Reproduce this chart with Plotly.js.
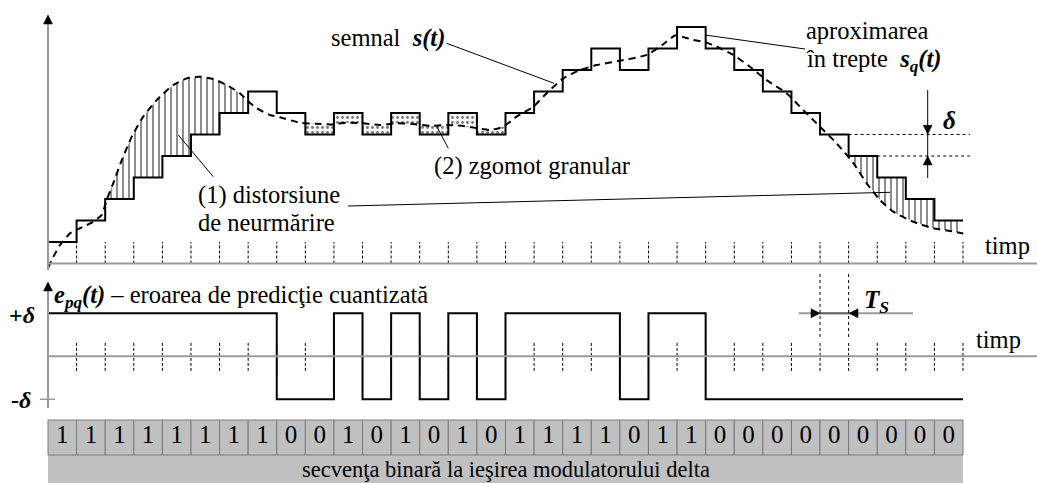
<!DOCTYPE html>
<html><head><meta charset="utf-8">
<script src="https://cdn.plot.ly/plotly-3.0.1.min.js"></script>
<style>html,body{margin:0;padding:0;background:#fff}#c{width:1037px;height:483px}</style>
</head><body><div id="c"></div>
<script>
// ---- data ----
const bits = [1,1,1,1,1,1,1,1,0,0,1,0,1,0,1,0,1,1,1,1,0,1,1,0,0,0,0,0,0,0,0,0];
const startLevel = 0;
// analog signal s(t): time in Ts units, amplitude in delta units
const signalT = [0,0.19,0.42,0.77,1.12,1.58,1.88,2.05,2.28,2.58,2.93,3.33,3.80,4.38,4.85,5.31,5.78,6.25,6.71,7.01,7.30,7.76,8.11,8.81,9.4,9.9,10.45,11.02,11.6,12.19,12.78,13.36,13.94,14.52,14.99,15.46,15.92,16.39,16.97,17.44,18.02,18.61,19.19,20.0,20.94,21.52,21.93,22.3,22.57,22.98,23.39,23.97,24.55,25.13,25.83,26.41,27.0,27.58,28.17,28.63,29.1,29.56,30.26,30.96,31.55,32.01];
const signalS = [-0.2,0.32,0.86,1.40,1.64,1.94,2.26,2.95,3.73,4.81,5.90,6.83,7.60,8.30,8.61,8.69,8.58,8.30,7.92,7.53,7.22,6.91,6.80,6.55,6.5,6.47,6.55,6.52,6.44,6.52,6.49,6.40,6.44,6.40,6.29,6.21,6.36,6.83,7.29,7.92,8.61,9.0,9.23,9.43,9.70,10.2,10.6,10.5,10.40,10.3,10.08,9.70,9.15,8.53,7.92,7.14,6.36,5.59,4.66,3.73,2.95,2.41,1.94,1.64,1.51,1.40];
const overloadA = [2.05, 7.0];
const granular = [9, 16];
const overloadB = [28, 31.95];

// ---- derived ----
const N = bits.length;
const level = [];
{ let L = startLevel; bits.forEach(b => { L += b ? 1 : -1; level.push(L); }); }
const stairX = [0], stairY = [startLevel];
for (let k = 0; k < N; k++) { stairX.push(k); stairY.push(level[k]); }
stairX.push(N); stairY.push(level[N-1]);
const sigX = [], sigY = [];
for (let k = 0; k < N; k++) { sigX.push(k); sigY.push(bits[k] ? 1 : -1); }
sigX.push(N); sigY.push(bits[N-1] ? 1 : -1);

function interp(x){
  for (let i = 1; i < signalT.length; i++){
    if (x <= signalT[i]) { const t=(x-signalT[i-1])/(signalT[i]-signalT[i-1]); return signalS[i-1]+t*(signalS[i]-signalS[i-1]); }
  }
  return signalS[signalS.length-1];
}
function stairAt(x){ const k=Math.min(N-1,Math.max(0,Math.floor(x))); return level[k]; }
function region(a,b){
  const xs=[a], ys=[interp(a)];
  signalT.forEach((t,i)=>{ if(t>a&&t<b){xs.push(t);ys.push(signalS[i]);} });
  xs.push(b); ys.push(interp(b));
  xs.push(b); ys.push(stairAt(b-1e-6));
  for(let k=Math.ceil(b)-1;k>a;k--){ xs.push(k); ys.push(level[k]); xs.push(k); ys.push(level[k-1]); }
  xs.push(a); ys.push(stairAt(a));
  xs.push(a); ys.push(interp(a));
  return {xs,ys};
}
const tickX=[], tickY=[], tick2Y=[];
for (let k=1;k<=N;k++){ tickX.push(k,k,null); tickY.push(0,1,null); tick2Y.push(-0.34,0.34,null); }

const W=1037, H=483;
const F='"Liberation Serif", "Times New Roman", Times, serif';
const P=px=>px/W, Q=py=>1-py/H;

const traces=[];
const hatch={shape:'|',size:6,solidity:0.33,fgcolor:'#8c8c8c',bgcolor:'#ffffff'};
[overloadA, overloadB].forEach(r=>{ const g=region(r[0],r[1]);
  traces.push({x:g.xs,y:g.ys,type:'scatter',mode:'none',fill:'toself',fillcolor:'rgba(0,0,0,0)',fillpattern:hatch,hoverinfo:'skip'}); });
{ const g=region(granular[0],granular[1]);
  traces.push({x:g.xs,y:g.ys,type:'scatter',mode:'none',fill:'toself',fillcolor:'rgba(0,0,0,0)',fillpattern:{shape:'.',size:5,solidity:0.25,fgcolor:'#777',bgcolor:'#f7f7f7'},hoverinfo:'skip'}); }
// ticks
traces.push({x:tickX,y:tickY,type:'scatter',mode:'lines',line:{color:'#000',width:1,dash:'3px,2px'}});
traces.push({x:tickX,y:tick2Y,yaxis:'y2',type:'scatter',mode:'lines',line:{color:'#000',width:1,dash:'3px,2px'}});
// signal & staircase
traces.push({x:signalT,y:signalS,type:'scatter',mode:'lines',line:{color:'#000',width:2,dash:'7px,5px',shape:'spline',smoothing:0.5}});
traces.push({x:stairX,y:stairY,type:'scatter',mode:'lines',line:{color:'#000',width:2,shape:'hv'}});
traces.push({x:sigX,y:sigY,yaxis:'y2',type:'scatter',mode:'lines',line:{color:'#000',width:2,shape:'hv'}});
// bit cells
traces.push({x:bits.map((b,k)=>k+0.5),y:bits.map(()=>1),base:0,width:1,type:'bar',yaxis:'y3',marker:{color:'#c0c0c0',line:{color:'#7a7a7a',width:1}},hoverinfo:'skip'});
traces.push({x:bits.map((b,k)=>k+0.5),y:bits.map(()=>0.52),text:bits.map(String),yaxis:'y3',type:'scatter',mode:'text',textposition:'middle center',textfont:{family:F,size:25,color:'#000'}});

const shapes=[];
function pl(x0,y0,x1,y1,color,width,dash){ shapes.push({type:'line',xref:'paper',yref:'paper',x0:P(x0),y0:Q(y0),x1:P(x1),y1:Q(y1),line:{color,width,dash:dash||'solid'}}); }
function tri(tx,ty,dir){ const L=9,h=4.5; let p;
  if(dir==='up') p=[[tx,ty],[tx-h,ty+L],[tx+h,ty+L]];
  else if(dir==='down') p=[[tx,ty],[tx-h,ty-L],[tx+h,ty-L]];
  else if(dir==='right') p=[[tx,ty],[tx-L,ty-h],[tx-L,ty+h]];
  else p=[[tx,ty],[tx+L,ty-h],[tx+L,ty+h]];
  const path='M'+p.map(q=>P(q[0])+','+Q(q[1])).join(' L')+' Z';
  shapes.push({type:'path',xref:'paper',yref:'paper',path,fillcolor:'#000',line:{color:'#000',width:0.5}}); }
shapes.push({type:'rect',xref:'x',yref:'y3',x0:0,x1:N,y0:-0.8,y1:0,fillcolor:'#c0c0c0',line:{width:0},layer:'below'});
// axes
pl(48,22,48,270,'#9a9a9a',2);
pl(48,263.5,1037,263.5,'#9a9a9a',2);
pl(48,289,48,408,'#9a9a9a',2);
pl(48,356.3,1037,356.3,'#9a9a9a',2);
pl(40,399.3,55,399.3,'#9a9a9a',1.5);
tri(48,15,'up'); tri(48,282,'up');
// Ts marker
pl(798.7,313.3,913,313.3,'#9a9a9a',2);
pl(820,313.3,849,313.3,'#666',2);
tri(820,313.3,'right'); tri(849,313.3,'left');
shapes.push({type:'line',xref:'x',yref:'y2',x0:27,x1:27,y0:0.45,y1:1.94,line:{color:'#000',width:1,dash:'dot'}});
shapes.push({type:'line',xref:'x',yref:'y2',x0:28,x1:28,y0:0.45,y1:1.94,line:{color:'#000',width:1,dash:'dot'}});
// delta marker
shapes.push({type:'line',xref:'x',yref:'y',x0:28,x1:32.24,y0:6,y1:6,line:{color:'#000',width:1,dash:'dot'}});
shapes.push({type:'line',xref:'x',yref:'y',x0:29,x1:32.24,y0:5,y1:5,line:{color:'#000',width:1,dash:'dot'}});
pl(927.7,90,927.7,178,'#000',1);
tri(927.7,134.3,'down'); tri(927.7,156,'up');
// leader lines
pl(446.7,43.3,554,83.3,'#000',1);
pl(448.3,148.3,436,125,'#000',1);
pl(213.3,176.7,178.3,135,'#000',1);
pl(348,206,890,192.3,'#000',1);
pl(705,35,805,49,'#000',1);

const ann=[];
function txt(px,py,text,size,xanchor){ ann.push({xref:'paper',yref:'paper',x:P(px),y:Q(py),text,showarrow:false,xanchor:xanchor||'left',yanchor:'middle',font:{family:F,size,color:'#000'}}); }
txt(329,38,'semnal\u00a0 <b><i>s(t)</i></b>',24.5);
txt(804,30,'aproximarea',24.5);
txt(804,60,'în trepte\u00a0 <b><i>s<sub>q</sub>(t)</i></b>',24.5);
txt(432,166,'(2) zgomot granular',24.5);
txt(196,195,'(1) distorsiune',24.5);
txt(196,222,'de neurmărire',24.5);
txt(983,245,'timp',24.5);
txt(974,339,'timp',24.5);
txt(7,315,'<b>+<i>δ</i></b>',24);
txt(9,400,'<b>-<i>δ</i></b>',24);
txt(52,296,'<b><i>e<sub>pq</sub>(t)</i></b> – eroarea de predicţie cuantizată',24.5);
txt(862,301,'<b><i>T<sub>S</sub></i></b>',25);
txt(941,120,'<b><i>δ</i></b>',25);
txt(506,469,'secvenţa binară la ieşirea modulatorului delta',22.5,'center');

const layout={width:W,height:H,margin:{l:0,r:0,t:0,b:0},paper_bgcolor:'#fff',plot_bgcolor:'#fff',showlegend:false,
  xaxis:{range:[-48/28.594,(W-48)/28.594],visible:false,fixedrange:true},
  yaxis:{range:[-10.209,12.256],visible:false,domain:[0,1]},
  yaxis2:{range:[-2.947,8.286],visible:false,overlaying:'y'},
  yaxis3:{range:[-0.8,13],visible:false,overlaying:'y'},
  shapes,annotations:ann,bargap:0};
Plotly.newPlot('c',traces,layout,{staticPlot:true,displayModeBar:false});
</script></body></html>
